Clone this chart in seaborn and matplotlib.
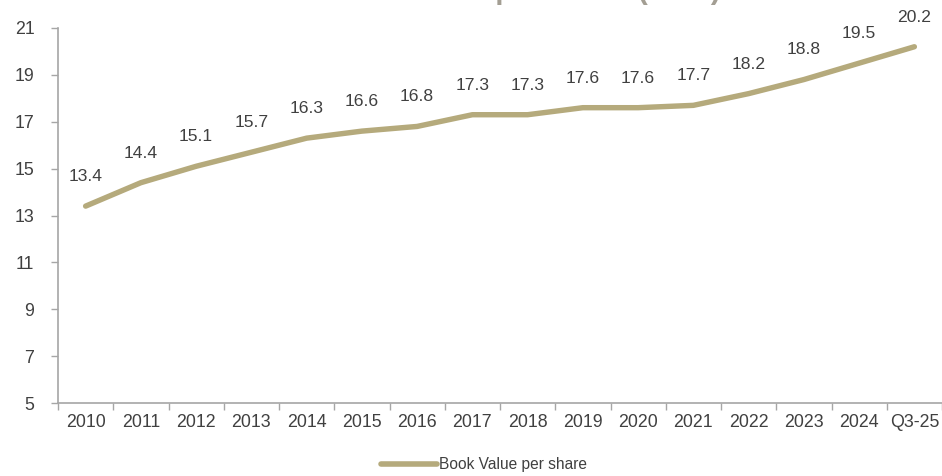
import numpy as np
import pandas as pd
import matplotlib
matplotlib.use("Agg")
import matplotlib.pyplot as plt
import seaborn as sns

# Book value per share by period
periods = ["2010", "2011", "2012", "2013", "2014", "2015", "2016", "2017",
           "2018", "2019", "2020", "2021", "2022", "2023", "2024", "Q3-25"]
book_value = [13.4, 14.4, 15.1, 15.7, 16.3, 16.6, 16.8, 17.3,
              17.3, 17.6, 17.6, 17.7, 18.2, 18.8, 19.5, 20.2]
y_ticks = [5, 7, 9, 11, 13, 15, 17, 19, 21]

series_name = "Book Value per share"
title_text = "Book Value per share (SAR)"

line_color = "#B5AA7C"
text_color = "#404040"
axis_color = "#A6A6A6"

sns.set_theme(style="white")
plt.rcParams["font.family"] = ["Liberation Sans", "DejaVu Sans"]

df = pd.DataFrame({"x": np.arange(len(periods)), "value": book_value,
                   "series": series_name})

fig = plt.figure(figsize=(9.42, 4.76), dpi=100)
ax = fig.add_axes([58 / 942, 1 - 403 / 476, 1 - 58 / 942, (403 - 28) / 476])

sns.lineplot(data=df, x="x", y="value", hue="series", palette=[line_color],
             linewidth=3.9, ax=ax, legend=True, solid_capstyle="round",
             solid_joinstyle="round")

for i, v in enumerate(book_value):
    ax.annotate(f"{v:.1f}", (i, v), xytext=(0, 21.3), textcoords="offset points",
                ha="center", va="center", fontsize=12.6, color=text_color)

ax.set_xlim(-0.5, len(periods) - 0.5)
ax.set_ylim(5, 21)
ax.set_yticks(y_ticks)
ax.set_yticklabels([str(t) for t in y_ticks])

# tick marks at category boundaries, labels at category centres
ax.set_xticks(np.arange(-0.5, len(periods), 1.0))
ax.set_xticklabels([])
ax.set_xticks(np.arange(len(periods)), minor=True)
ax.set_xticklabels(periods, minor=True)
ax.tick_params(axis="x", which="major", length=5, width=1, color=axis_color,
               direction="out", bottom=True)
ax.tick_params(axis="x", which="minor", length=0, pad=8, labelsize=12.8,
               labelcolor=text_color)
ax.tick_params(axis="y", length=5, width=1, color=axis_color, direction="out",
               left=True, labelsize=12.8, labelcolor=text_color, pad=12)

for side in ["top", "right"]:
    ax.spines[side].set_visible(False)
for side in ["left", "bottom"]:
    ax.spines[side].set_color(axis_color)
    ax.spines[side].set_linewidth(1.2)

ax.set_xlabel("")
ax.set_ylabel("")
ax.grid(False)

leg = ax.legend(loc="center left", bbox_to_anchor=(381 / 942, 11 / 476),
                bbox_transform=fig.transFigure, frameon=False, fontsize=11.2,
                handlelength=3.6, handletextpad=0.15, borderaxespad=0,
                borderpad=0)
for t in leg.get_texts():
    t.set_color(text_color)
for h in leg.get_lines():
    h.set_linewidth(4)

fig.text(523 / 942, 1 + 1 / 476, title_text, ha="center", va="baseline",
         fontsize=21.5, fontweight="bold", color="#A39E93")

fig.savefig("out.png", dpi=100)
